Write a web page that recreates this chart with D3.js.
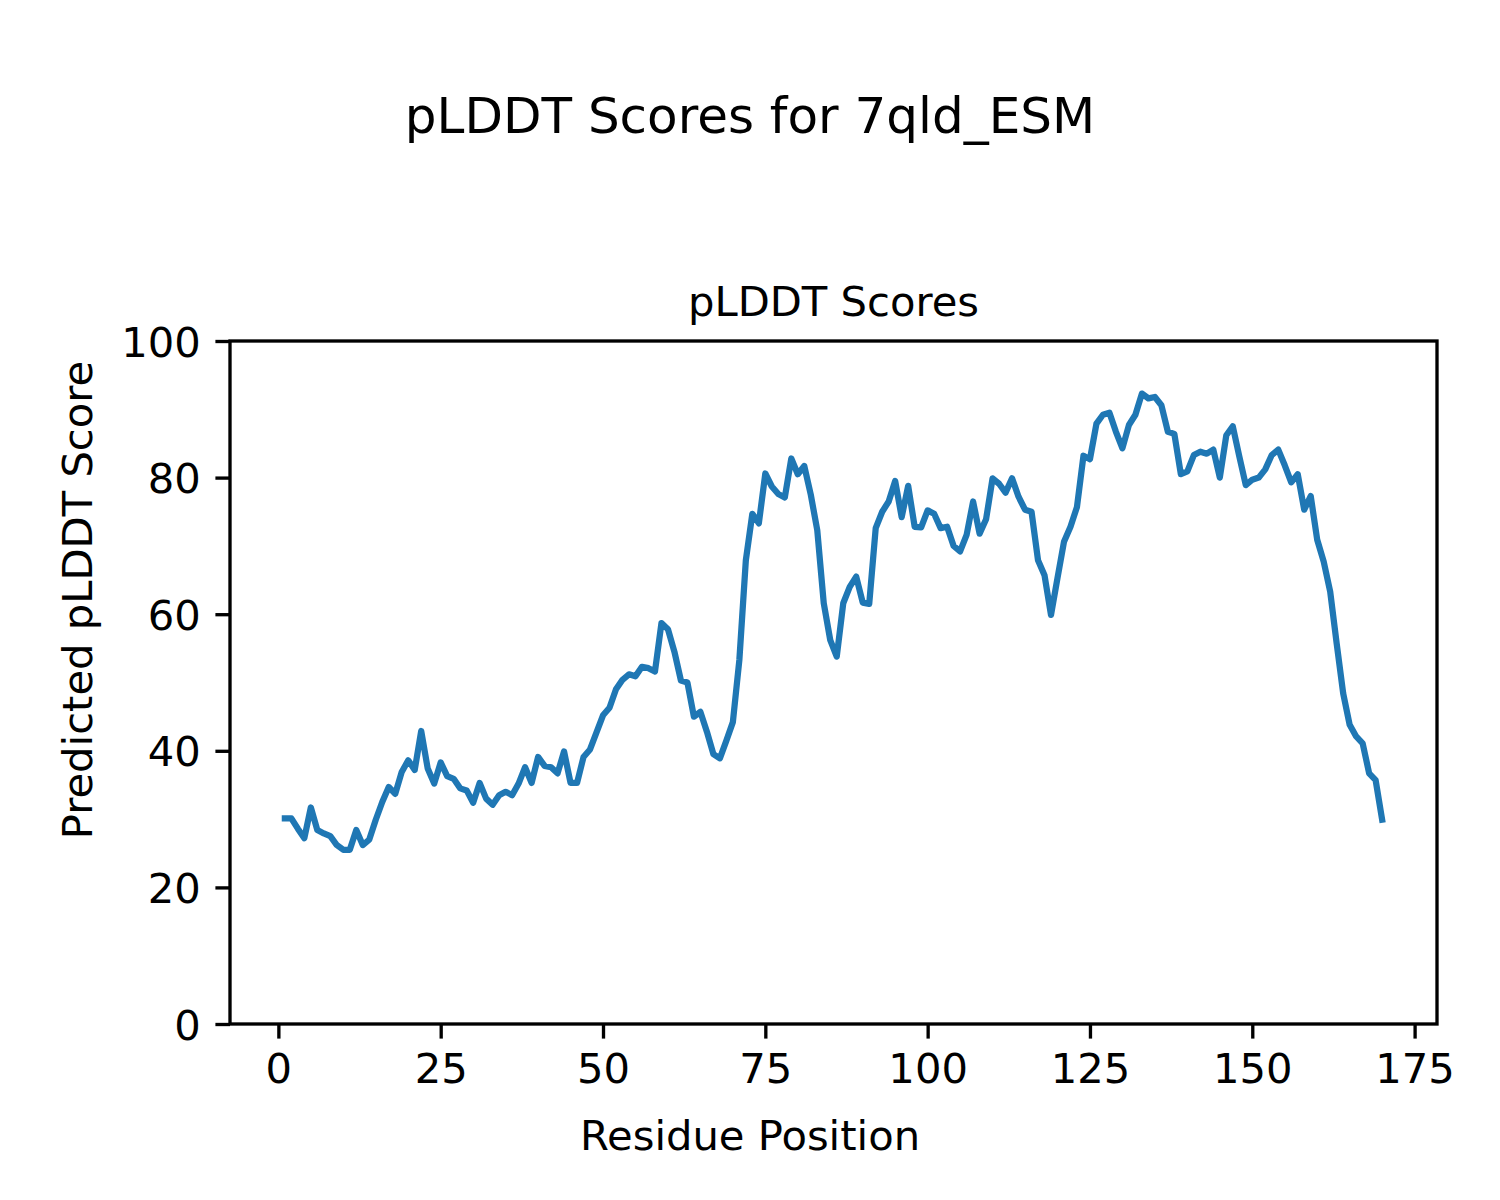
<!DOCTYPE html>
<html>
<head>
<meta charset="utf-8">
<script src="https://cdn.jsdelivr.net/npm/d3@7"></script>
<style>
  html, body { margin: 0; padding: 0; background: #ffffff; }
  svg { display: block; }
  text { font-family: "DejaVu Sans", sans-serif; fill: #000; }
</style>
</head>
<body>
<svg id="chart" width="1500" height="1200"></svg>
<script>
// ---- data ----
const figureTitle = "pLDDT Scores for 7qld_ESM";
const axesTitle = "pLDDT Scores";
const xLabel = "Residue Position";
const yLabel = "Predicted pLDDT Score";
const xTicks = [0, 25, 50, 75, 100, 125, 150, 175];
const yTicks = [0, 20, 40, 60, 80, 100];
const scores = [
  30.1, 30.1, 28.6, 27.2, 31.7, 28.4, 27.9, 27.5, 26.2, 25.5,
  25.5, 28.4, 26.2, 27.0, 29.9, 32.5, 34.7, 33.7, 36.9, 38.6,
  37.2, 42.9, 37.4, 35.2, 38.3, 36.3, 35.9, 34.5, 34.2, 32.4,
  35.3, 33.0, 32.1, 33.5, 34.0, 33.5, 35.2, 37.6, 35.3, 39.1,
  37.8, 37.6, 36.7, 39.9, 35.3, 35.3, 39.1, 40.2, 42.7, 45.2,
  46.3, 49.0, 50.4, 51.2, 50.9, 52.3, 52.1, 51.6, 58.7, 57.8,
  54.5, 50.3, 50.0, 45.0, 45.7, 42.8, 39.5, 38.9, 41.5, 44.2,
  53.3, 67.9, 74.7, 73.3, 80.6, 78.7, 77.6, 77.1, 82.8, 80.5,
  81.7, 77.5, 72.3, 61.6, 56.2, 53.8, 61.6, 64.0, 65.5, 61.7,
  61.5, 72.6, 75.0, 76.5, 79.5, 74.2, 78.8, 72.8, 72.7, 75.2,
  74.7, 72.6, 72.8, 70.0, 69.2, 71.6, 76.5, 71.8, 73.9, 79.9,
  79.1, 77.8, 79.9, 77.2, 75.3, 75.0, 67.9, 65.7, 59.9, 65.3,
  70.6, 72.8, 75.7, 83.2, 82.7, 87.9, 89.2, 89.5, 86.7, 84.3,
  87.7, 89.2, 92.3, 91.6, 91.8, 90.6, 86.7, 86.4, 80.5, 80.9,
  83.3, 83.8, 83.5, 84.1, 80.0, 86.2, 87.5, 83.1, 78.9, 79.7,
  80.0, 81.2, 83.3, 84.1, 81.8, 79.3, 80.5, 75.3, 77.3, 70.9,
  67.7, 63.3, 55.7, 48.4, 43.8, 42.1, 41.1, 36.7, 35.7, 29.9
];
const firstResidue = 1;

// ---- layout ----
const W = 1500, H = 1200;
const plot = { left: 230, right: 1437, top: 341, bottom: 1024 };
const fontTick = 41.7, fontTitle = 50;
const tickLen = 14.6, tickPad = 14.6, spineW = 3.33;

const data = scores.map((v, i) => ({ x: firstResidue + i, y: v }));

const svg = d3.select("#chart");
svg.append("rect").attr("width", W).attr("height", H).attr("fill", "#fff");

const xExt = d3.extent(data, d => d.x);
const margin = (xExt[1] - xExt[0]) * 0.05;
const x = d3.scaleLinear().domain([xExt[0] - margin, xExt[1] + margin]).range([plot.left, plot.right]);
const y = d3.scaleLinear().domain([0, 100]).range([plot.bottom, plot.top]);

// line
const line = d3.line().x(d => x(d.x)).y(d => y(d.y));
svg.append("path")
  .datum(data)
  .attr("d", line)
  .attr("fill", "none")
  .attr("stroke", "#1f77b4")
  .attr("stroke-width", 6.25)
  .attr("stroke-linejoin", "round")
  .attr("stroke-linecap", "square");

// axes
const xAxis = d3.axisBottom(x).tickValues(xTicks).tickSize(tickLen).tickPadding(tickPad).tickSizeOuter(0);
const yAxis = d3.axisLeft(y).tickValues(yTicks).tickSize(tickLen).tickPadding(tickPad).tickSizeOuter(0);

const gx = svg.append("g").attr("transform", `translate(0,${plot.bottom})`).call(xAxis);
const gy = svg.append("g").attr("transform", `translate(${plot.left},0)`).call(yAxis);
[gx, gy].forEach(g => {
  g.select(".domain").remove();
  g.selectAll(".tick line").attr("stroke", "#000").attr("stroke-width", spineW);
  g.selectAll(".tick text")
    .attr("font-family", "DejaVu Sans, sans-serif")
    .attr("font-size", fontTick)
    .attr("fill", "#000");
});
gy.selectAll(".tick text").attr("dy", "0.36em");

// spines
svg.append("rect")
  .attr("x", plot.left).attr("y", plot.top)
  .attr("width", plot.right - plot.left).attr("height", plot.bottom - plot.top)
  .attr("fill", "none").attr("stroke", "#000").attr("stroke-width", spineW)
  .attr("stroke-linejoin", "miter");

// titles
svg.append("text").attr("x", W / 2).attr("y", 133)
  .attr("text-anchor", "middle").attr("font-size", fontTitle).text(figureTitle);
svg.append("text").attr("x", (plot.left + plot.right) / 2).attr("y", 316)
  .attr("text-anchor", "middle").attr("font-size", fontTick).text(axesTitle);
svg.append("text").attr("x", W / 2).attr("y", 1150)
  .attr("text-anchor", "middle").attr("font-size", fontTick).text(xLabel);
svg.append("text").attr("transform", `translate(92,${H / 2}) rotate(-90)`)
  .attr("text-anchor", "middle").attr("font-size", fontTick).text(yLabel);
</script>
</body>
</html>
